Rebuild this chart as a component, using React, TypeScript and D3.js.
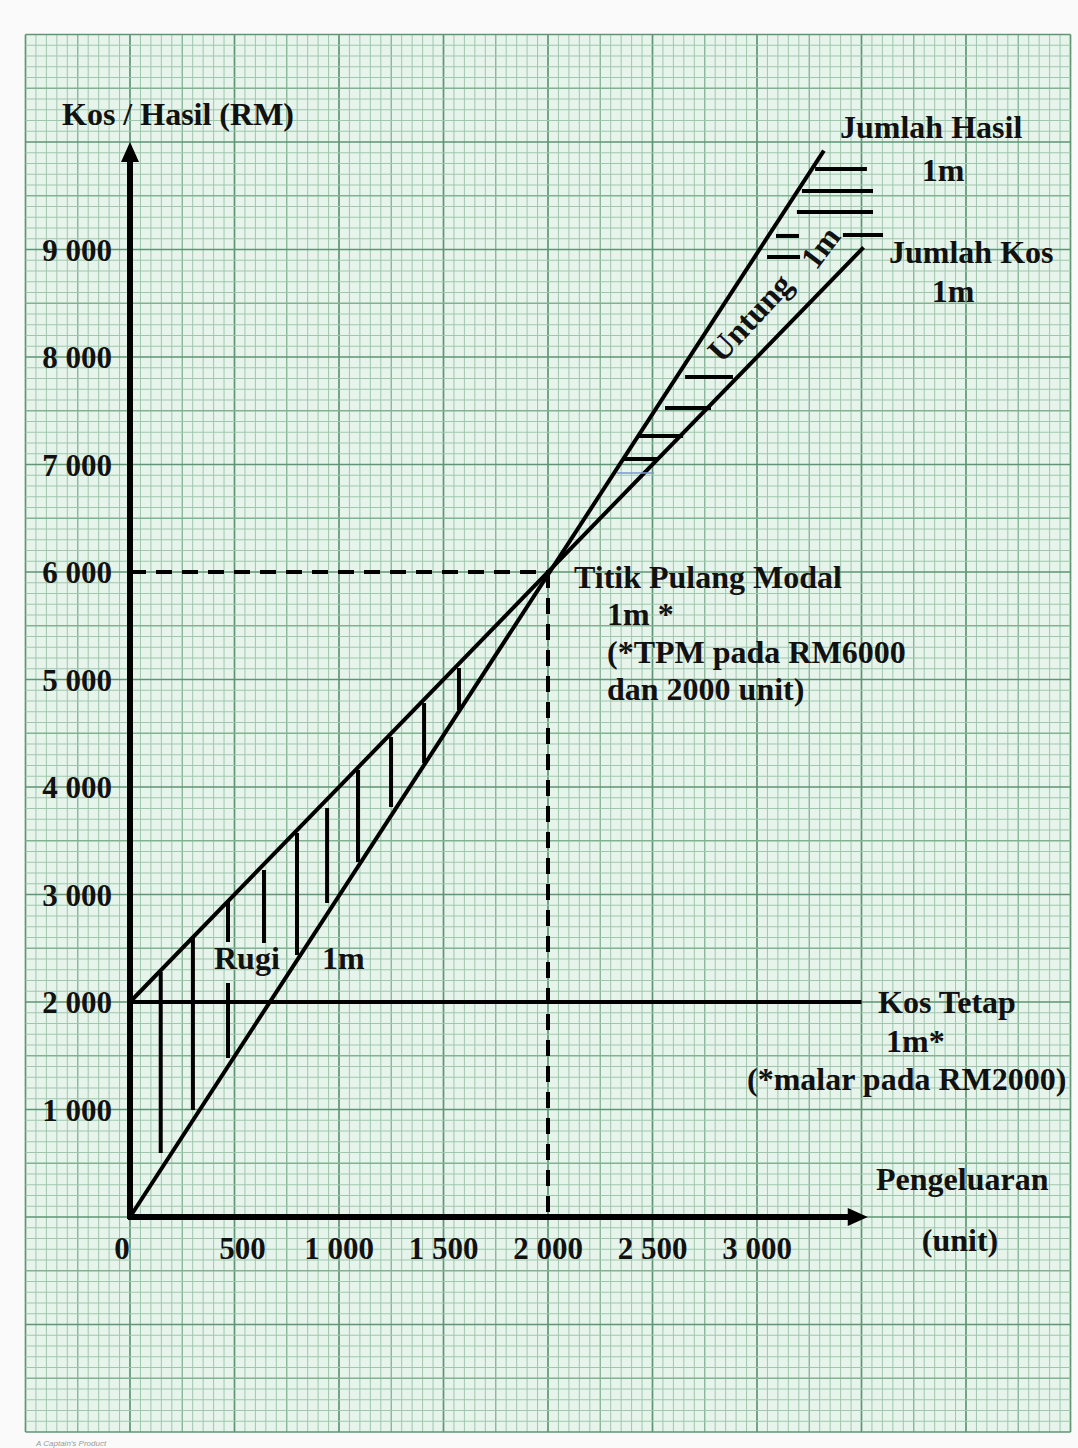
import React from "react";
import * as d3 from "d3";

// ---- data (units of production, RM) ----
const xTicks = [0, 500, 1000, 1500, 2000, 2500, 3000];
const xTickLabels = ["0", "500", "1 000", "1 500", "2 000", "2 500", "3 000"];
const yTicks = [1000, 2000, 3000, 4000, 5000, 6000, 7000, 8000, 9000];
const yTickLabels = ["1 000", "2 000", "3 000", "4 000", "5 000", "6 000", "7 000", "8 000", "9 000"];

const revenueLine = [
  { units: 0, rm: 0 },
  { units: 3320, rm: 9920 },
];
const costLine = [
  { units: 0, rm: 2000 },
  { units: 3510, rm: 9020 },
];
const fixedCostLine = [
  { units: 0, rm: 2000 },
  { units: 3500, rm: 2000 },
];
const breakEven = { units: 2000, rm: 6000 };
const axisEnds = { units: 3530, rm: 10000 };

// loss hatching: [units, rmTop, rmBottom]
const lossHatch: [number, number, number][] = [
  [147, 2280, 595],
  [301, 2595, 995],
  [469, 2930, 2558],
  [469, 2177, 1479],
  [641, 3228, 2549],
  [799, 3572, 2437],
  [943, 3805, 2921],
  [1091, 4158, 3302],
  [1249, 4465, 3814],
  [1407, 4781, 4223],
  [1574, 5107, 4716],
];
// profit hatching: [rm, unitsStart, unitsEnd]
const profitHatch: [number, number, number][] = [
  [7051, 2359, 2531],
  [7265, 2435, 2646],
  [7526, 2560, 2780],
  [7814, 2656, 2885],
  [8930, 3048, 3206],
  [9126, 3091, 3201],
  [9135, 3411, 3603],
  [9349, 3191, 3555],
  [9544, 3215, 3555],
  [9749, 3278, 3526],
];
const blueStroke: [number, number, number] = [6921, 2330, 2507];

const W = 1078;
const H = 1448;
const FONT = "'Liberation Serif', 'Times New Roman', serif";

export default function App() {
  const x = d3.scaleLinear().domain([-500, 4500]).range([25.5, 1070.5]);
  const y = d3.scaleLinear().domain([-2000, 11000]).range([1432, 34.5]);
  const line = d3
    .line<{ units: number; rm: number }>()
    .x((d) => x(d.units))
    .y((d) => y(d.rm));

  const xMinor = d3.range(-500, 4500 + 1, 50);
  const yMinor = d3.range(-2000, 11000 + 1, 100);

  const gridColor = (i: number) =>
    i % 10 === 0 ? "#5f9574" : i % 5 === 0 ? "#80b292" : "#9fc7ad";
  const gridW = (i: number) => (i % 10 === 0 ? 1.7 : i % 5 === 0 ? 1.3 : 1);

  const ox = x(0);
  const oy = y(0);
  const ax = x(axisEnds.units);
  const ay = y(axisEnds.rm);

  const txt = {
    fontFamily: FONT,
    fontWeight: 700 as const,
    fontSize: 32,
    fill: "#111",
  };

  return (
    <svg
      width={W}
      height={H}
      style={{ position: "absolute", left: 0, top: 0, background: "#f9faf9" }}
    >
      {/* paper */}
      <rect x={x(-500)} y={y(11000)} width={x(4500) - x(-500)} height={y(-2000) - y(11000)} fill="#e6f4eb" />
      {xMinor.map((v, i) => (
        <line key={"gx" + i} x1={x(v)} x2={x(v)} y1={y(11000)} y2={y(-2000)} stroke={gridColor(i)} strokeWidth={gridW(i)} />
      ))}
      {yMinor.map((v, i) => (
        <line key={"gy" + i} x1={x(-500)} x2={x(4500)} y1={y(v)} y2={y(v)} stroke={gridColor(i)} strokeWidth={gridW(i)} />
      ))}
      <text x={36} y={1446} fontFamily="Arial, sans-serif" fontSize={8} fontStyle="italic" fill="#9a9a9a">
        A Captain's Product
      </text>

      {/* dashed guides to break-even */}
      <line x1={ox} x2={x(breakEven.units)} y1={y(breakEven.rm)} y2={y(breakEven.rm)} stroke="#000" strokeWidth={4} strokeDasharray="16 10" />
      <line x1={x(breakEven.units)} x2={x(breakEven.units)} y1={y(breakEven.rm)} y2={oy} stroke="#000" strokeWidth={4} strokeDasharray="16 10" />

      {/* fixed cost, total cost, total revenue */}
      <path d={line(fixedCostLine) || ""} stroke="#000" strokeWidth={4} fill="none" />
      <path d={line(costLine) || ""} stroke="#000" strokeWidth={4} fill="none" />
      <path d={line(revenueLine) || ""} stroke="#000" strokeWidth={4} fill="none" />

      {/* hatching */}
      {lossHatch.map(([u, a, b], i) => (
        <line key={"lh" + i} x1={x(u)} x2={x(u)} y1={y(a)} y2={y(b)} stroke="#000" strokeWidth={4} />
      ))}
      {profitHatch.map(([v, a, b], i) => (
        <line key={"ph" + i} x1={x(a)} x2={x(b)} y1={y(v)} y2={y(v)} stroke="#000" strokeWidth={4} />
      ))}
      <line x1={x(blueStroke[1])} x2={x(blueStroke[2])} y1={y(blueStroke[0])} y2={y(blueStroke[0])} stroke="#7b97d6" strokeWidth={1.5} />

      {/* axes */}
      <line x1={ox} x2={ox} y1={oy + 2} y2={ay + 16} stroke="#000" strokeWidth={6} />
      <path d={`M${ox},${ay} L${ox - 9},${ay + 20} L${ox + 9},${ay + 20} Z`} fill="#000" />
      <line x1={ox - 2} x2={ax - 16} y1={oy} y2={oy} stroke="#000" strokeWidth={6} />
      <path d={`M${ax},${oy} L${ax - 20},${oy - 9} L${ax - 20},${oy + 9} Z`} fill="#000" />

      {/* tick labels */}
      {yTicks.map((v, i) => (
        <text key={"yt" + i} {...txt} fontSize={31} x={112} y={y(v) + 11} textAnchor="end">
          {yTickLabels[i]}
        </text>
      ))}
      {xTicks.map((v, i) => (
        <text key={"xt" + i} {...txt} fontSize={31} x={v === 0 ? x(v) - 8 : x(v) + (v === 500 ? 8 : 0)} y={1259} textAnchor="middle">
          {xTickLabels[i]}
        </text>
      ))}

      {/* axis titles */}
      <text {...txt} x={62} y={125}>Kos / Hasil (RM)</text>
      <text {...txt} x={876} y={1190}>Pengeluaran</text>
      <text {...txt} x={960} y={1251} textAnchor="middle">(unit)</text>

      {/* annotations */}
      <text {...txt} x={840} y={138}>Jumlah Hasil</text>
      <text {...txt} x={943} y={181} textAnchor="middle">1m</text>
      <text {...txt} x={889} y={263}>Jumlah Kos</text>
      <text {...txt} x={953} y={302} textAnchor="middle">1m</text>

      <text {...txt} x={574} y={588}>Titik Pulang Modal</text>
      <text {...txt} x={607} y={625}>1m *</text>
      <text {...txt} x={607} y={663}>(*TPM pada RM6000</text>
      <text {...txt} x={607} y={700}>dan 2000 unit)</text>

      <text {...txt} x={878} y={1013}>Kos Tetap</text>
      <text {...txt} x={886} y={1052}>1m*</text>
      <text {...txt} x={747} y={1090}>(*malar pada RM2000)</text>

      <text {...txt} x={214} y={969}>Rugi</text>
      <text {...txt} x={322} y={969}>1m</text>

      <text {...txt} fontSize={33} transform="translate(758,325) rotate(-47)" textAnchor="middle">Untung</text>
      <text {...txt} transform="translate(829,254) rotate(-53)" textAnchor="middle">1m</text>
    </svg>
  );
}
